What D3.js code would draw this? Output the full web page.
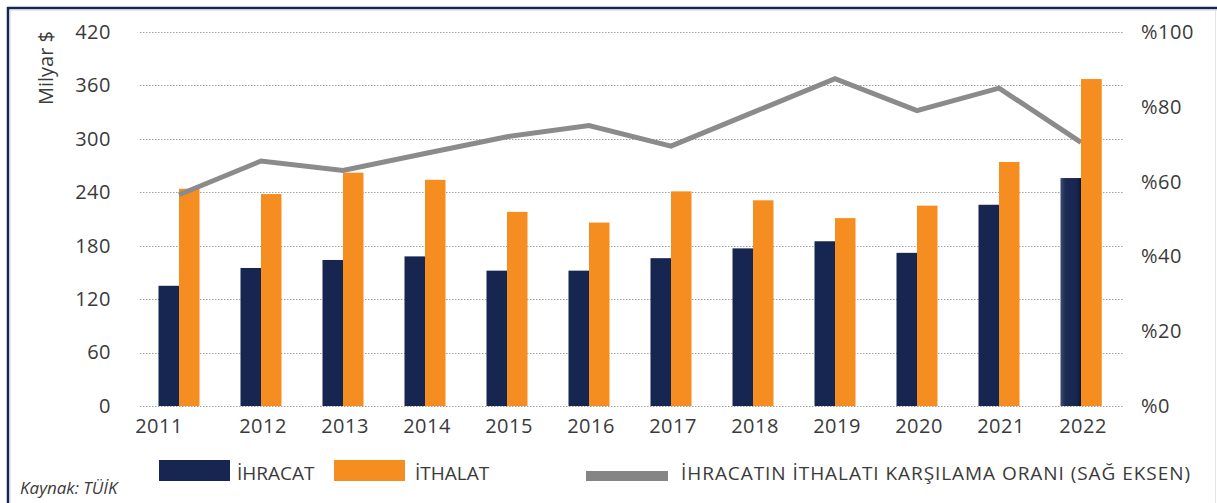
<!DOCTYPE html>
<html>

<head>
  <meta charset="UTF-8">
  <title>İhracat / İthalat</title>
  <script src="https://d3js.org/d3.v7.min.js"></script>
  <style>
    body {
      margin: 0;
      background: #fff;
    }

    svg text {
      font-family: "Open Sans", sans-serif;
      fill: #3a3a3a;
    }
  </style>
</head>

<body>
  <svg></svg>
</body>

<script>
  // values
  let years = ["2011", "2012", "2013", "2014", "2015", "2016", "2017", "2018", "2019", "2020", "2021", "2022"];
  let ihracat = [135, 155, 164, 168, 152, 152, 166, 177, 185, 172, 226, 256];
  let ithalat = [244, 238, 262, 254, 218, 206, 241, 231, 211, 225, 274, 367];
  let oran = [56.5, 65.5, 63, 67.5, 72, 75, 69.5, 78.5, 87.5, 79, 85, 70.5];
  let leftTicks = [0, 60, 120, 180, 240, 300, 360, 420];
  let rightTicks = [0, 20, 40, 60, 80, 100];

  let width = 1217,
    height = 503;

  let svg = d3.select("svg")
    .attr("width", width)
    .attr("height", height);

  // frame
  svg.append("line").attr("x1", 7).attr("x2", width).attr("y1", 8).attr("y2", 8)
    .attr("stroke", "#172651").attr("stroke-width", 2.5);
  svg.append("line").attr("x1", 9).attr("x2", width).attr("y1", 10).attr("y2", 10)
    .attr("stroke", "#c9d3e6").attr("stroke-width", 1);
  svg.append("line").attr("x1", 8).attr("x2", 8).attr("y1", 7).attr("y2", height)
    .attr("stroke", "#172651").attr("stroke-width", 2.5);
  svg.append("line").attr("x1", 10).attr("x2", 10).attr("y1", 10).attr("y2", height)
    .attr("stroke", "#c9d3e6").attr("stroke-width", 1);
  svg.append("line").attr("x1", 1215.5).attr("x2", 1215.5).attr("y1", 10).attr("y2", height)
    .attr("stroke", "#e4e4e4").attr("stroke-width", 1);

  let x = d3.scaleBand()
    .domain(years)
    .range([138, 1122]);

  let xInner = d3.scaleBand()
    .domain(["ihracat", "ithalat"])
    .range([-20.5, 20.5]);

  let y = d3.scaleLinear()
    .domain([0, 420])
    .range([406, 32]);

  let yRight = d3.scaleLinear()
    .domain([0, 100])
    .range([406, 32]);

  // gridlines
  svg.append("g")
    .selectAll("line")
    .data(leftTicks)
    .enter()
    .append("line")
    .attr("x1", 140)
    .attr("x2", 1123)
    .attr("y1", d => Math.round(y(d)) + 0.5)
    .attr("y2", d => Math.round(y(d)) + 0.5)
    .attr("stroke", "#a0a0a0")
    .attr("stroke-width", 1)
    .attr("stroke-dasharray", "1.5,1.5");

  // left axis
  let leftAxis = svg.append("g")
    .attr("transform", "translate(111,0)")
    .call(d3.axisLeft(y).tickValues(leftTicks).tickSize(0).tickPadding(0));
  leftAxis.select(".domain").remove();
  leftAxis.selectAll("text")
    .style("font-size", "20px")
    .style("letter-spacing", "0.5px")
    .attr("fill", "#3a3a3a");

  // right axis
  let rightAxis = svg.append("g")
    .attr("transform", "translate(1141,0)")
    .call(d3.axisRight(yRight).tickValues(rightTicks).tickSize(0).tickPadding(0)
      .tickFormat(d => "%" + d));
  rightAxis.select(".domain").remove();
  rightAxis.selectAll("text")
    .style("font-size", "20px")
    .style("letter-spacing", "0.5px")
    .attr("fill", "#3a3a3a");

  // x axis labels
  let xAxis = svg.append("g")
    .attr("transform", "translate(0,419)")
    .call(d3.axisBottom(x).tickSize(0).tickPadding(0));
  xAxis.select(".domain").remove();
  xAxis.selectAll("text")
    .style("font-size", "20px")
    .style("letter-spacing", "0.5px")
    .attr("fill", "#3a3a3a")
    .attr("dx", d => d == "2011" ? -20 : 2);

  // y title
  svg.append("text")
    .attr("transform", "translate(53,68) rotate(-90)")
    .attr("text-anchor", "middle")
    .style("font-size", "20px")
    .text("Milyar $");

  // gradient for the last export bar
  let defs = svg.append("defs");
  let grad = defs.append("linearGradient").attr("id", "navyShade");
  grad.append("stop").attr("offset", "0%").attr("stop-color", "#3c4b70");
  grad.append("stop").attr("offset", "25%").attr("stop-color", "#1c2b55");
  grad.append("stop").attr("offset", "80%").attr("stop-color", "#172651");
  grad.append("stop").attr("offset", "100%").attr("stop-color", "#0d1632");

  let groups = svg.append("g")
    .selectAll("g")
    .data(years)
    .enter()
    .append("g")
    .attr("transform", d => "translate(" + (x(d) + x.bandwidth() / 2) + ",0)");

  groups.append("rect")
    .attr("x", xInner("ihracat"))
    .attr("width", xInner.bandwidth())
    .attr("y", (d, i) => y(ihracat[i]))
    .attr("height", (d, i) => y(0) - y(ihracat[i]))
    .attr("fill", (d, i) => i == years.length - 1 ? "url(#navyShade)" : "#172651");

  groups.append("rect")
    .attr("x", xInner("ithalat"))
    .attr("width", xInner.bandwidth())
    .attr("y", (d, i) => y(ithalat[i]))
    .attr("height", (d, i) => y(0) - y(ithalat[i]))
    .attr("fill", "#f58d20");

  // coverage ratio line (right axis)
  let line = d3.line()
    .x((d, i) => x(years[i]) + x.bandwidth() / 2)
    .y(d => yRight(d));

  svg.append("path")
    .datum(oran)
    .attr("d", line)
    .attr("fill", "none")
    .attr("stroke", "#8a8b8a")
    .attr("stroke-width", 5)
    .attr("stroke-linejoin", "miter");

  // redraw the 2022 import bar over the line end
  svg.append("rect")
    .attr("x", x("2022") + x.bandwidth() / 2 + xInner("ithalat"))
    .attr("width", xInner.bandwidth())
    .attr("y", y(ithalat[11]))
    .attr("height", y(0) - y(ithalat[11]))
    .attr("fill", "#f58d20");

  // legend
  let legend = svg.append("g");
  legend.append("rect").attr("x", 159).attr("y", 460).attr("width", 71).attr("height", 21).attr("fill", "#172651");
  legend.append("text").attr("x", 237).attr("y", 480).style("font-size", "19px").text("İHRACAT");
  legend.append("rect").attr("x", 334).attr("y", 460).attr("width", 71).attr("height", 21).attr("fill", "#f58d20");
  legend.append("text").attr("x", 415).attr("y", 480).style("font-size", "19px").text("İTHALAT");
  legend.append("rect").attr("x", 586).attr("y", 471).attr("width", 82).attr("height", 10).attr("fill", "#858585");
  legend.append("text").attr("x", 681).attr("y", 480).style("font-size", "19px")
    .attr("textLength", 509)
    .text("İHRACATIN İTHALATI KARŞILAMA ORANI (SAĞ EKSEN)");

  svg.append("text")
    .attr("x", 20)
    .attr("y", 494)
    .style("font-size", "17px")
    .style("font-style", "italic")
    .attr("fill", "#555")
    .text("Kaynak: TÜİK");
</script>

</html>
